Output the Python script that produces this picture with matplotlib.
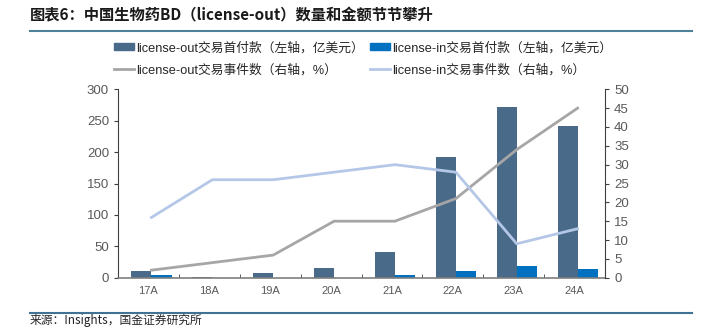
import matplotlib.pyplot as plt
from matplotlib.lines import Line2D
from matplotlib.patches import Patch
import numpy as np

plt.rcParams['font.family'] = ['Liberation Sans', 'Noto Sans CJK SC']

years = ['17A', '18A', '19A', '20A', '21A', '22A', '23A', '24A']
out_upfront = [11, 1, 7, 16, 41, 192, 272, 241]
in_upfront = [4, 0, 0, 0, 4, 10, 19, 14]
out_count = [2, 4, 6, 15, 15, 21, 34, 45]
in_count = [16, 26, 26, 28, 30, 28, 9, 13]

labels = ['license-out交易首付款（左轴，亿美元）', 'license-in交易首付款（左轴，亿美元）',
          'license-out交易事件数（右轴，%）', 'license-in交易事件数（右轴，%）']

c_out_bar = '#4a6a8a'
c_in_bar = '#0070c0'
c_out_line = '#a6a6a6'
c_in_line = '#b4c7e7'
tick_c = '#595959'

W, H = 702, 328
fig = plt.figure(figsize=(W / 100, H / 100), dpi=100)

ax = fig.add_axes([118 / W, 1 - 277.7 / H, (605 - 118) / W, (277.7 - 89.3) / H])
ax2 = ax.twinx()

x = np.arange(len(years))
bw = 0.33
ax.bar(x - bw / 2 + 0.05, out_upfront, bw, color=c_out_bar, zorder=2)
ax.bar(x + bw / 2 + 0.05, in_upfront, bw, color=c_in_bar, zorder=2)
ax2.plot(x + 0.05, out_count, color=c_out_line, lw=2)
ax2.plot(x + 0.05, in_count, color=c_in_line, lw=2)

ax.set_xlim(-0.5, 7.5)
ax.set_ylim(0, 300)
ax.set_yticks(range(0, 301, 50))
ax2.set_ylim(0, 50)
ax2.set_yticks(range(0, 51, 5))

ax.set_xticks(x)
ax.set_xticklabels(years)
ax.set_xticks(np.arange(0.5, 7.5, 1), minor=True)
ax.tick_params(axis='x', which='major', length=0, pad=6, labelsize=8, labelcolor=tick_c)
ax.tick_params(axis='x', which='minor', length=3, direction='in', color='#404040')
ax.tick_params(axis='y', length=3, labelsize=9.5, labelcolor=tick_c, color='#404040')
ax2.tick_params(axis='y', length=3, labelsize=9.5, labelcolor=tick_c, color='#404040')

for a in (ax, ax2):
    a.spines['top'].set_visible(False)
ax.spines['right'].set_visible(False)
ax2.spines['left'].set_visible(False)
ax2.spines['bottom'].set_visible(False)
ax.spines['left'].set_color('#404040')
ax2.spines['right'].set_color('#404040')
ax.spines['bottom'].set_color('#7f7f7f')
ax.spines['bottom'].set_linewidth(1.2)

handles = [Patch(color=c_out_bar), Line2D([], [], color=c_out_line, lw=2),
           Patch(color=c_in_bar), Line2D([], [], color=c_in_line, lw=2)]
leg_labels = [labels[0], labels[2], labels[1], labels[3]]
fig.legend(handles, leg_labels, ncol=2, loc='center left', bbox_to_anchor=(103 / W, 1 - 59 / H),
           frameon=False, fontsize=9.2, handlelength=1.5, handleheight=0.5,
           handletextpad=0.2, columnspacing=0.5, labelspacing=0.75, labelcolor='#262626')

fig.text(30 / W, 1 - 15 / H, '图表6：中国生物药BD（license-out）数量和金额节节攀升',
         fontsize=11, fontweight='bold', style='italic', va='center', ha='left',
         color='#1a1a1a', family=['Noto Sans CJK SC', 'DejaVu Sans'])
fig.add_artist(Line2D([30 / W, 692 / W], [1 - 31 / H] * 2, color='#4f8199', lw=1.5))
fig.add_artist(Line2D([30 / W, 692 / W], [1 - 312.7 / H] * 2, color='#3f7396', lw=1.5))
fig.text(30 / W, 1 - 327 / H, '来源：Insights，国金证券研究所', fontsize=8.5, va='bottom',
         ha='left', color='#262626', family=['Noto Sans CJK SC', 'DejaVu Sans'])

fig.savefig('out.png', dpi=100)
